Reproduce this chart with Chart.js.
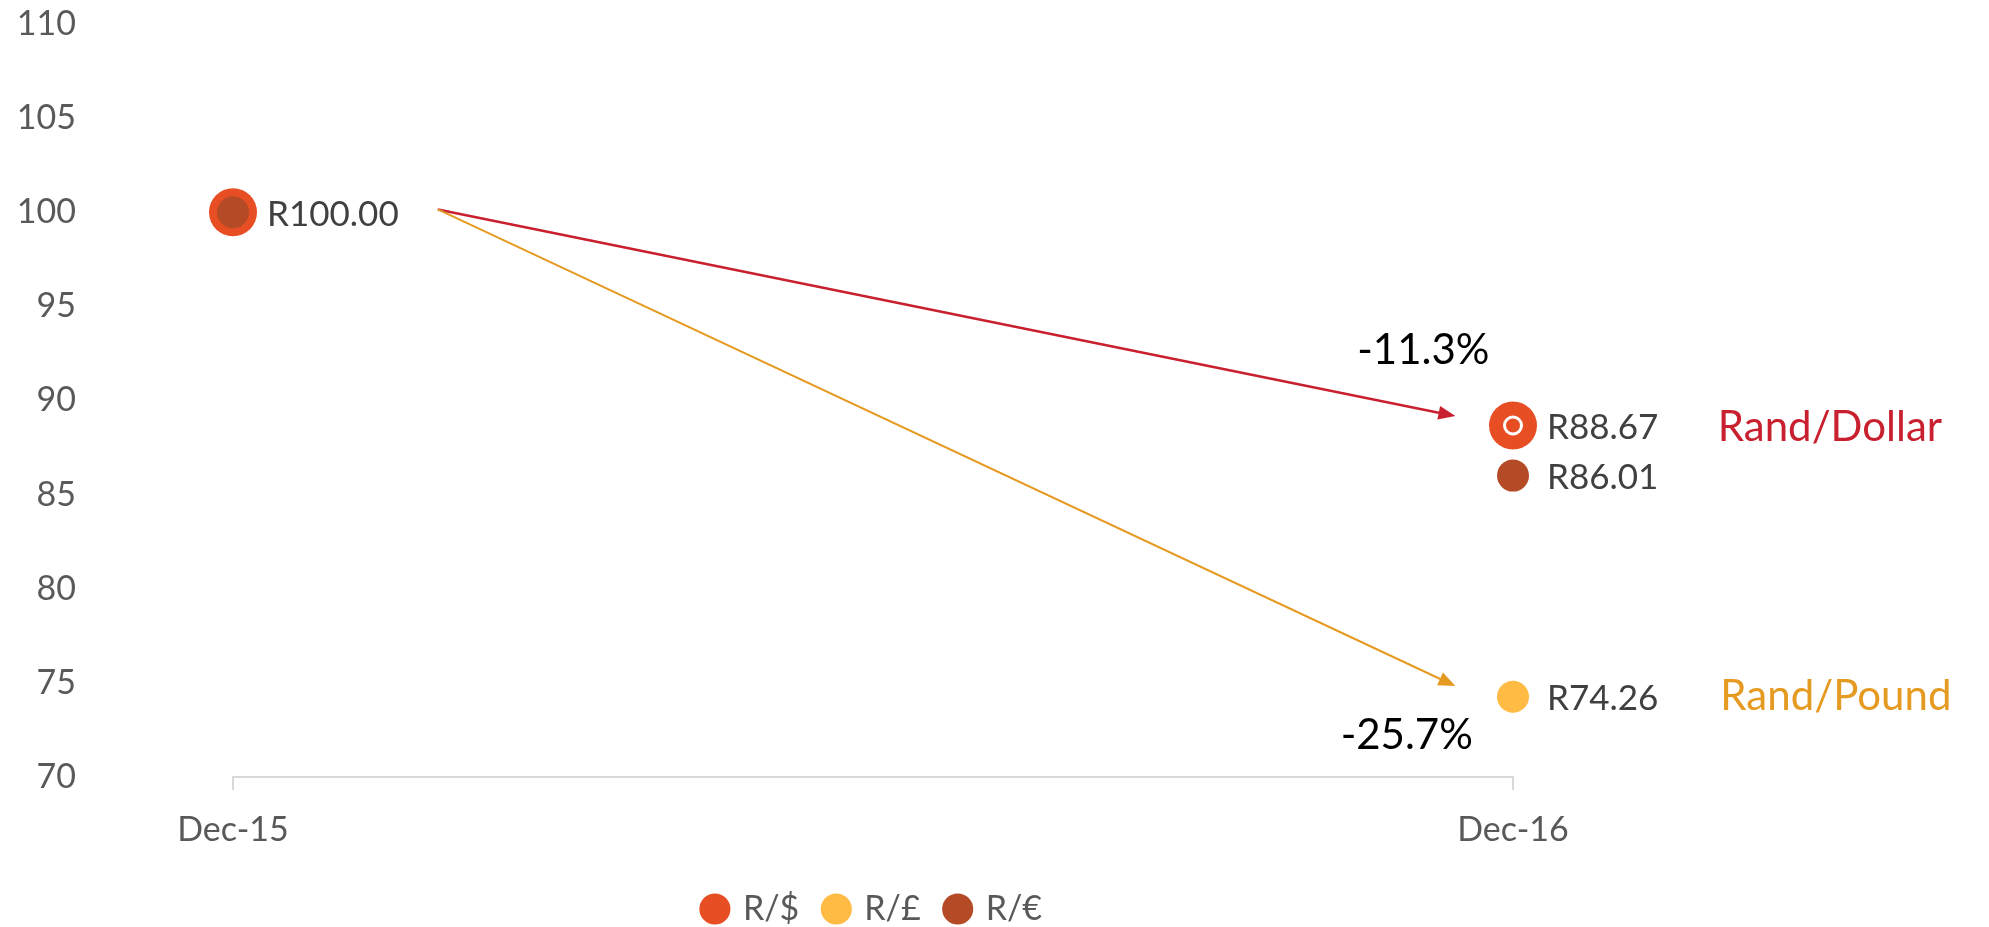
<!DOCTYPE html>
<html>
<head>
<meta charset="utf-8">
<script src="https://cdn.jsdelivr.net/npm/chart.js@4/dist/chart.umd.min.js"></script>
<style>
  html, body { margin: 0; padding: 0; background: #fff; }
</style>
</head>
<body>
<canvas id="fx" width="1989" height="927"></canvas>
<script>
// categories on the x axis
const months = ['Dec-15', 'Dec-16'];

// rand value of 100 rand-equivalent, Dec-15 = 100
const randDollar = [100, 88.67];
const randPound = [100, 74.26];
const randEuro = [100, 86.01];

// which points get an "R.." value label
const dollarShowLabel = [true, true];
const poundShowLabel = [false, true];
const euroShowLabel = [false, true];
// the latest dollar point has a small white ring in it
const dollarRing = [false, true];

// y axis
const yMin = 70;
const yMax = 110;
const yStep = 5;

// arrows, in axis units (x = category index, y = index value)
const arrowFrom = [[0.16, 100.15], [0.16, 100.15]];
const arrowTo = [[0.955, 89.17], [0.955, 74.83]];

// change notes and series names on the right side
const notes = ['-11.3%', '-25.7%', 'Rand/Dollar', 'Rand/Pound'];
const noteX = [0.93, 0.917, 1.16, 1.162];
const noteY = [92.67, 72.2, 88.55, 74.3];

// styles
const usdColor = '#E84E24';
const gbpColor = '#FFBB44';
const eurColor = '#B54B26';
const arrowColors = ['#C8202F', '#E59A22'];
const arrowWidths = [2.5, 2];
const noteColors = ['#000000', '#000000', '#C8202F', '#E59A22'];
const noteAlign = ['center', 'center', 'left', 'left'];

Chart.defaults.font.family = 'Lato, sans-serif';

const labelFlags = [dollarShowLabel, poundShowLabel, euroShowLabel];

// draws arrows, value labels and the notes on top of the points
const extras = {
    id: 'extras',
    afterDatasetsDraw(chart) {
        const ctx = chart.ctx;
        const xs = chart.scales.x;
        const ys = chart.scales.y;
        ctx.save();

        for (let i = 0; i < arrowFrom.length; i++) {
            const x1 = xs.getPixelForValue(arrowFrom[i][0]);
            const y1 = ys.getPixelForValue(arrowFrom[i][1]);
            const x2 = xs.getPixelForValue(arrowTo[i][0]);
            const y2 = ys.getPixelForValue(arrowTo[i][1]);
            const a = Math.atan2(y2 - y1, x2 - x1);
            const c = Math.cos(a), s = Math.sin(a);
            ctx.strokeStyle = arrowColors[i];
            ctx.fillStyle = arrowColors[i];
            ctx.lineWidth = arrowWidths[i];
            ctx.beginPath();
            ctx.moveTo(x1, y1);
            ctx.lineTo(x2 - 12 * c, y2 - 12 * s);
            ctx.stroke();
            ctx.beginPath();
            ctx.moveTo(x2, y2);
            ctx.lineTo(x2 - 17 * c + 7 * s, y2 - 17 * s - 7 * c);
            ctx.lineTo(x2 - 17 * c - 7 * s, y2 - 17 * s + 7 * c);
            ctx.closePath();
            ctx.fill();
        }

        // white ring in the dollar marker
        const usdMeta = chart.getDatasetMeta(0);
        dollarRing.forEach((on, i) => {
            if (!on) return;
            const p = usdMeta.data[i];
            ctx.strokeStyle = '#ffffff';
            ctx.lineWidth = 3;
            ctx.beginPath();
            ctx.arc(p.x, p.y, 8.5, 0, Math.PI * 2);
            ctx.stroke();
        });

        // value labels
        ctx.font = '35px Lato';
        ctx.fillStyle = '#404040';
        ctx.textAlign = 'left';
        ctx.textBaseline = 'middle';
        chart.data.datasets.forEach((ds, d) => {
            const meta = chart.getDatasetMeta(d);
            labelFlags[d].forEach((on, i) => {
                if (!on) return;
                const p = meta.data[i];
                ctx.fillText('R' + ds.data[i].toFixed(2), p.x + 34, p.y + 2);
            });
        });

        // notes
        ctx.font = '42px Lato';
        for (let i = 0; i < notes.length; i++) {
            ctx.fillStyle = noteColors[i];
            ctx.textAlign = noteAlign[i];
            ctx.fillText(notes[i], xs.getPixelForValue(noteX[i]), ys.getPixelForValue(noteY[i]));
        }
        ctx.restore();
    }
};

const pointSet = (label, data, color, radius, order) => ({
    label: label,
    data: data,
    showLine: false,
    clip: false,
    order: order,
    pointRadius: radius,
    pointHoverRadius: radius,
    pointBorderWidth: 0,
    pointBackgroundColor: color,
    backgroundColor: color,
    borderColor: color,
    borderWidth: 0
});

new Chart(document.getElementById('fx'), {
    type: 'line',
    data: {
        labels: months,
        datasets: [
            pointSet('R/$', randDollar, usdColor, 24, 2),
            pointSet('R/£', randPound, gbpColor, 16, 3),
            pointSet('R/€', randEuro, eurColor, 16, 1)
        ]
    },
    options: {
        responsive: false,
        animation: false,
        layout: { padding: { top: 24, right: 476, left: 0, bottom: -9 } },
        plugins: {
            tooltip: { enabled: false },
            legend: {
                position: 'bottom',
                fullSize: false,
                labels: {
                    usePointStyle: true,
                    pointStyle: 'circle',
                    boxWidth: 22,
                    boxHeight: 22,
                    padding: 26,
                    color: '#595959',
                    font: { size: 34 },
                    sort: (a, b) => a.datasetIndex - b.datasetIndex
                }
            }
        },
        scales: {
            x: {
                type: 'category',
                offset: false,
                grid: { display: true, drawOnChartArea: false, drawTicks: true, tickLength: 13, color: '#d9d9d9', lineWidth: 2 },
                border: { display: true, color: '#d9d9d9', width: 2 },
                ticks: { color: '#595959', font: { size: 34 }, padding: 20, maxRotation: 0, autoSkip: false },
                afterFit: (s) => { s.height = 89; }
            },
            y: {
                min: yMin,
                max: yMax,
                ticks: { stepSize: yStep, color: '#595959', font: { size: 34 }, padding: 157 },
                grid: { display: false, drawTicks: false },
                border: { display: false },
                // the big label padding also pads top/bottom, so drop that
                afterFit: (s) => { s.width = 233; s.paddingTop = 0; s.paddingBottom = 0; }
            }
        }
    },
    plugins: [extras]
});
</script>
</body>
</html>
